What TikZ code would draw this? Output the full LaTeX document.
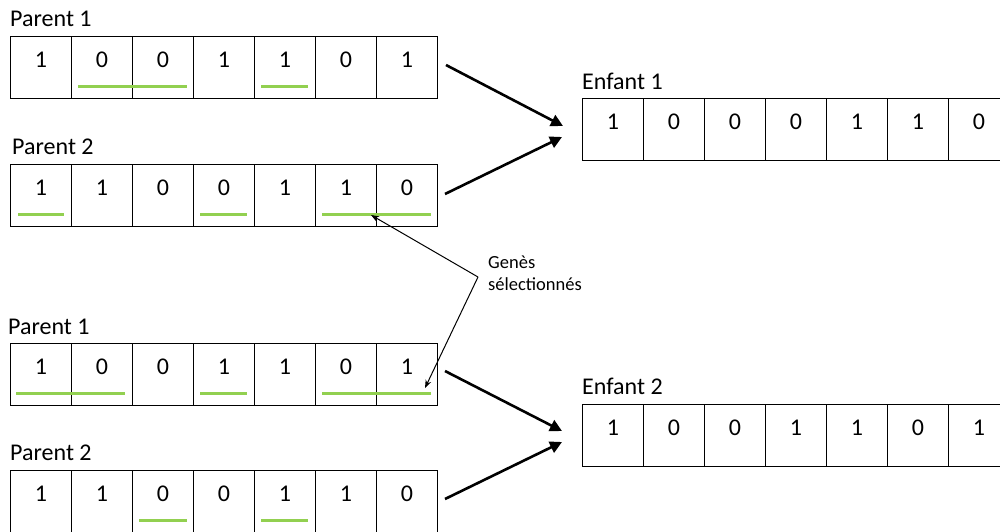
\documentclass[tikz,border=0pt]{standalone}
\usepackage{fontspec}
\setmainfont{Carlito}
\usetikzlibrary{arrows.meta,calc}
\definecolor{selgreen}{RGB}{146,208,80}
\begin{document}
\begin{tikzpicture}[x=1pt,y=-1pt,
  cell/.style={draw, line width=0.9pt, minimum width=61pt, minimum height=62pt, inner sep=0pt,
    text height=8pt, text depth=8pt, font=\fontsize{24}{28}\selectfont, anchor=north west},
  title/.style={anchor=base west, inner sep=0pt, font=\fontsize{24}{28}\selectfont},
  note/.style={anchor=base west, inner sep=0pt, font=\fontsize{18.5}{22}\selectfont},
  sel/.style={draw=selgreen, line width=3pt},
  bigarrow/.style={line width=2.6pt, -{Triangle[length=12pt,width=12pt]}},
  thinarrow/.style={line width=1pt, -{Stealth[length=8pt,width=6pt]}},
]
\useasboundingbox (0,0) rectangle (1000,531);

% rows
\foreach \d [count=\i] in {1,0,0,1,1,0,1}
  \node[cell] (pa-\i) at ({10+61*(\i-1)},36) {\d};
\foreach \d [count=\i] in {1,1,0,0,1,1,0}
  \node[cell] (pb-\i) at ({10+61*(\i-1)},164) {\d};
\foreach \d [count=\i] in {1,0,0,1,1,0,1}
  \node[cell] (pc-\i) at ({10+61*(\i-1)},343) {\d};
\foreach \d [count=\i] in {1,1,0,0,1,1,0}
  \node[cell] (pd-\i) at ({10+61*(\i-1)},470) {\d};
\foreach \d [count=\i] in {1,0,0,0,1,1,0}
  \node[cell] (ea-\i) at ({582+61*(\i-1)},98) {\d};
\foreach \d [count=\i] in {1,0,0,1,1,0,1}
  \node[cell] (eb-\i) at ({582+61*(\i-1)},404) {\d};

% titles
\node[title] (tpa) at (10,26) {Parent 1};
\node[title] (tpb) at (12,154) {Parent 2};
\node[title] (tpc) at (8,334) {Parent 1};
\node[title] (tpd) at (10,460) {Parent 2};
\node[title] (tea) at (582,89) {Enfant 1};
\node[title] (teb) at (582,394) {Enfant 2};

% selected genes
\draw[sel] ([xshift=7pt,yshift=12.5pt]pa-2.south west) -- ([xshift=-7pt,yshift=12.5pt]pa-3.south east);
\draw[sel] ([xshift=7pt,yshift=12.5pt]pa-5.south west) -- ([xshift=-8pt,yshift=12.5pt]pa-5.south east);
\draw[sel] ([xshift=8pt,yshift=12.5pt]pb-1.south west) -- ([xshift=-8pt,yshift=12.5pt]pb-1.south east);
\draw[sel] ([xshift=7pt,yshift=12.5pt]pb-4.south west) -- ([xshift=-8pt,yshift=12.5pt]pb-4.south east);
\draw[sel] ([xshift=7pt,yshift=12.5pt]pb-6.south west) -- ([xshift=-7pt,yshift=12.5pt]pb-7.south east);
\draw[sel] ([xshift=6pt,yshift=12.5pt]pc-1.south west) -- ([xshift=-8pt,yshift=12.5pt]pc-2.south east);
\draw[sel] ([xshift=7pt,yshift=12.5pt]pc-4.south west) -- ([xshift=-8pt,yshift=12.5pt]pc-4.south east);
\draw[sel] ([xshift=7pt,yshift=12.5pt]pc-6.south west) -- ([xshift=-7pt,yshift=12.5pt]pc-7.south east);
\draw[sel] ([xshift=7pt,yshift=12.5pt]pd-3.south west) -- ([xshift=-7pt,yshift=12.5pt]pd-3.south east);
\draw[sel] ([xshift=7pt,yshift=12.5pt]pd-5.south west) -- ([xshift=-8pt,yshift=12.5pt]pd-5.south east);

% big arrows
\coordinate (sa) at (446,65);
\coordinate (sb) at (445,194);
\coordinate (sc) at (445,371);
\coordinate (sd) at (445,499);
\coordinate (ea-in1) at (563,126);
\coordinate (ea-in2) at (562,137);
\coordinate (eb-in1) at (562,431);
\coordinate (eb-in2) at (562,442);
\draw[bigarrow] (sa) -- (ea-in1);
\draw[bigarrow] (sb) -- (ea-in2);
\draw[bigarrow] (sc) -- (eb-in1);
\draw[bigarrow] (sd) -- (eb-in2);

% annotation
\node[note] (gl1) at (488,268) {Genès};
\node[note] (gl2) at (488,290) {sélectionnés};
\coordinate (lblpt) at (478,277);
\coordinate (tgt1) at (371,215);
\coordinate (tgt2) at (425,388);
\draw[thinarrow] (lblpt) -- (tgt1);
\draw[thinarrow] (lblpt) -- (tgt2);
\end{tikzpicture}
\end{document}
